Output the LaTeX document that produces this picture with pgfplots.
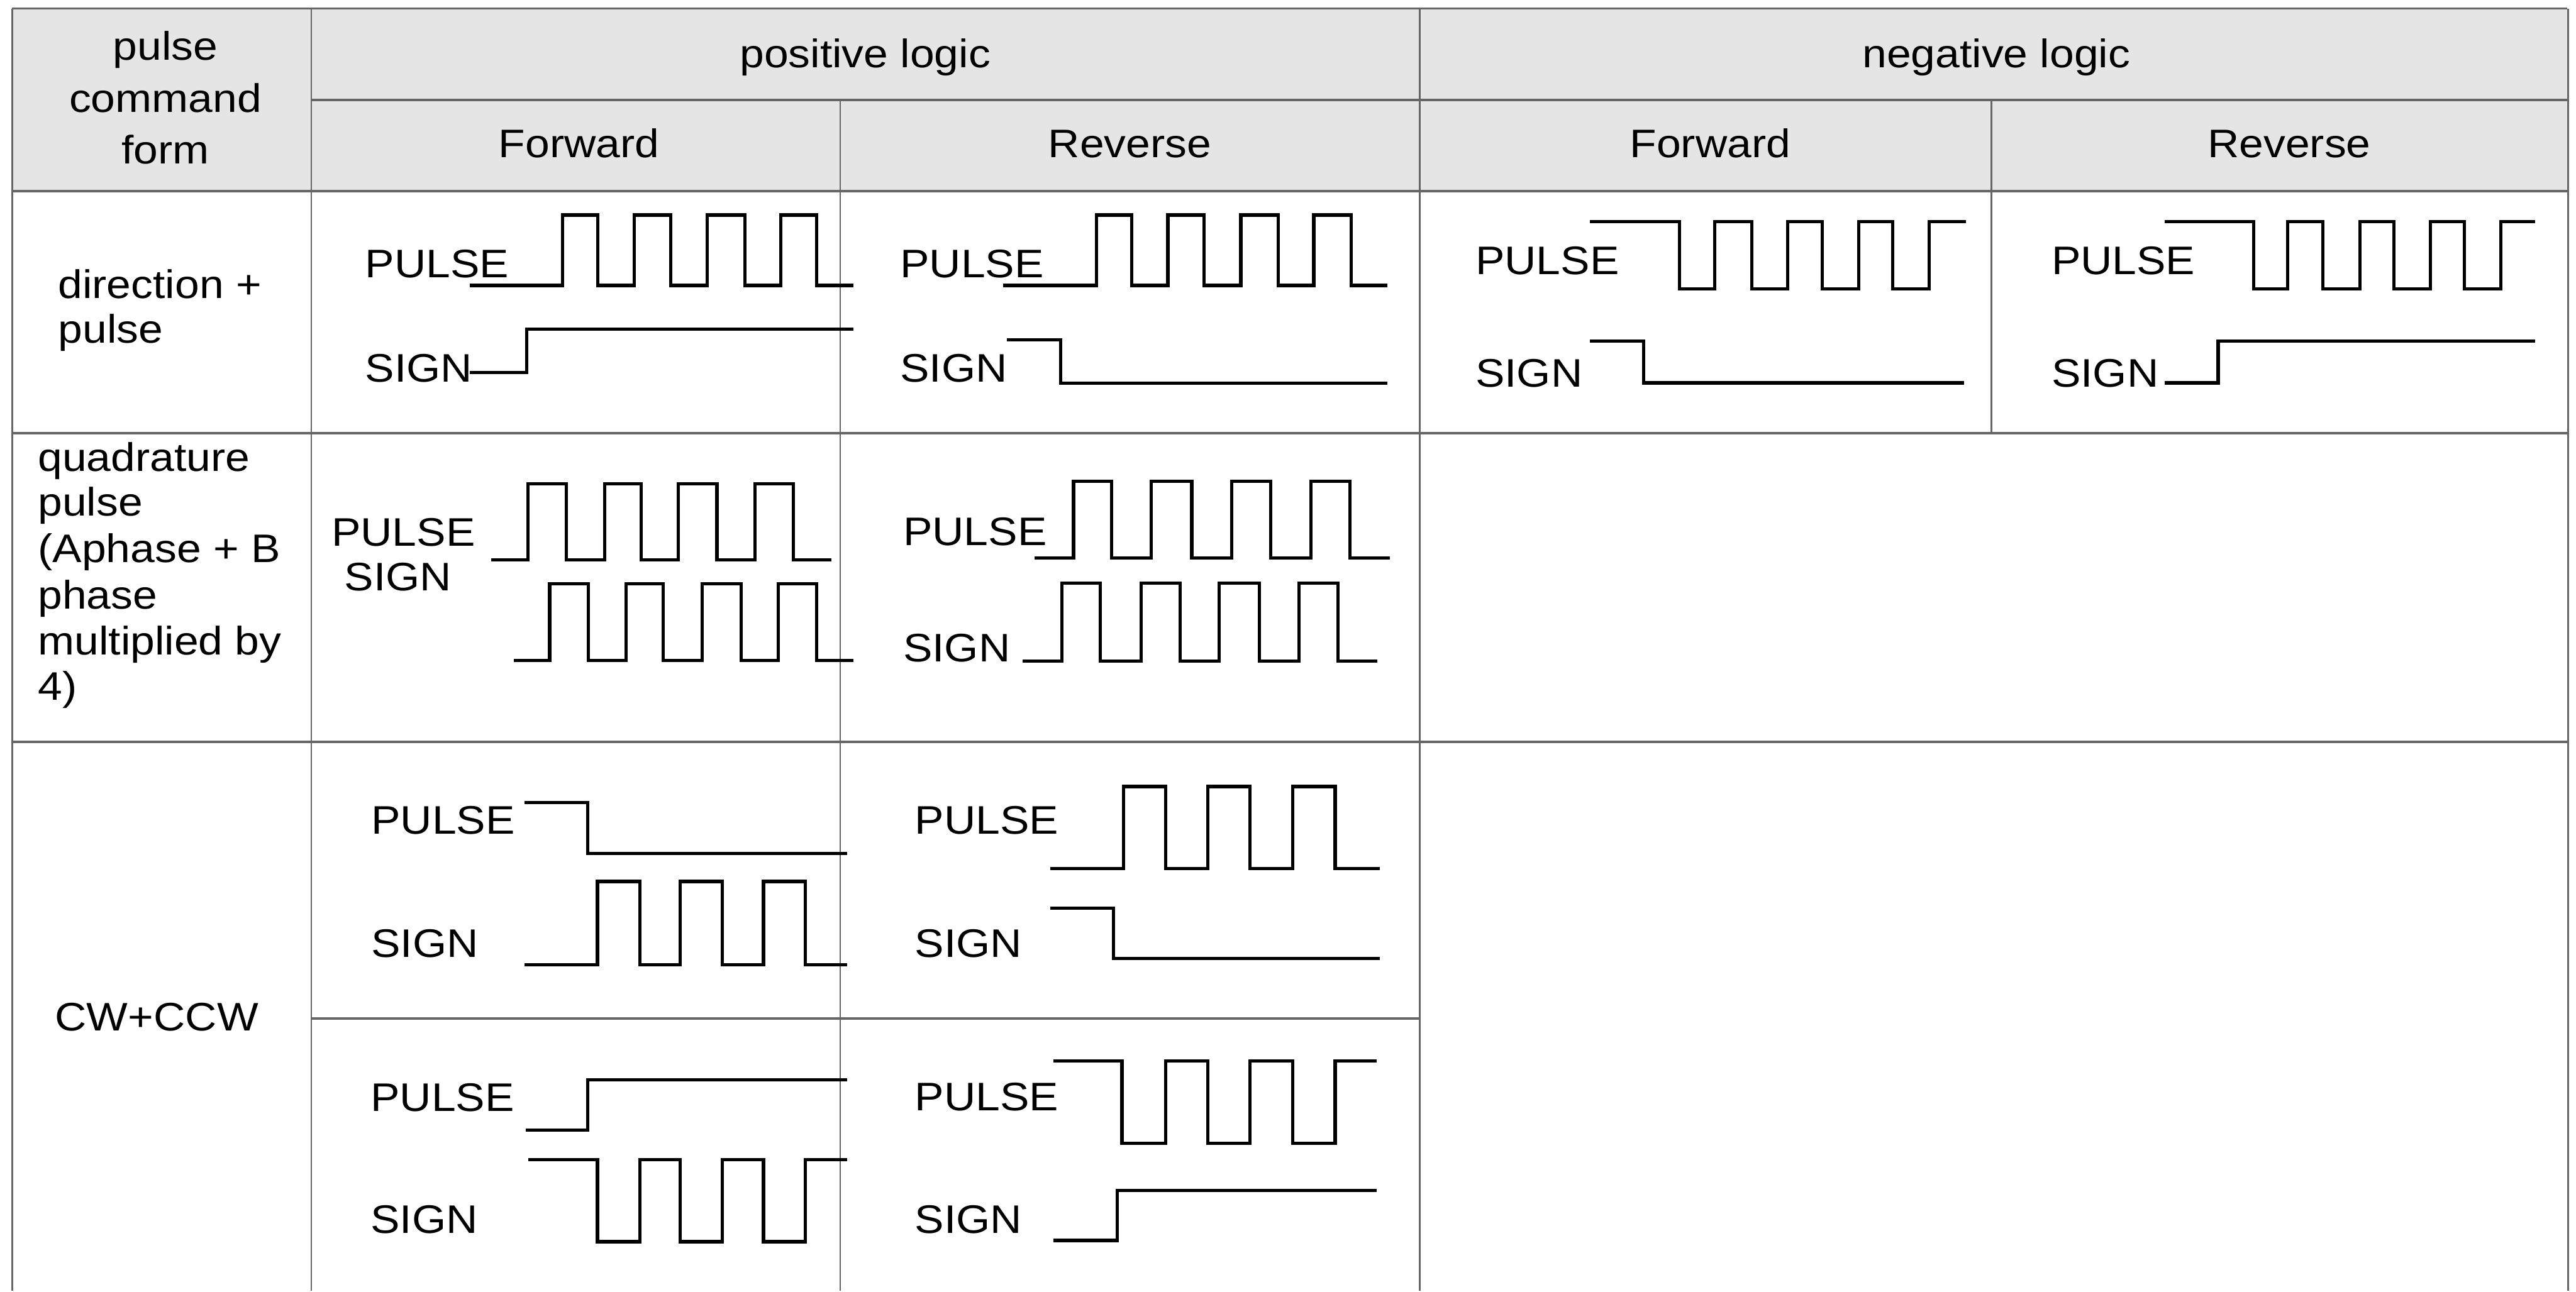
\documentclass[border=0pt]{standalone}
\usepackage{fontspec}
\setmainfont{Liberation Sans}[FakeStretch=1.1]
\usepackage{pgfplots}
\pgfplotsset{compat=1.18}
\definecolor{hdr}{HTML}{E5E5E5}
\definecolor{tl}{HTML}{666666}
\tikzset{
  wave/.style={black, line width=1.05pt, mark=none, line join=miter},
  hl/.style={tl, line width=0.75pt, mark=none},
  vl/.style={tl, line width=0.5pt, mark=none},
  lab/.style={anchor=base west, inner sep=0pt, font=\fontsize{13}{15}\selectfont},
  hd/.style={anchor=base, inner sep=0pt, font=\fontsize{13}{15}\selectfont},
}
\begin{document}
\begin{tikzpicture}
\begin{axis}[
  width=840.8pt, height=421.4pt, scale only axis,
  xmin=0, xmax=4204, ymin=0, ymax=2107, y dir=reverse,
  hide axis, clip=false,
]
% background
\addplot[fill=white, draw=none] coordinates {(0,0)(4204,0)(4204,2107)(0,2107)};
% header fill
\addplot[fill=hdr, draw=none] coordinates {(20,14)(4190,14)(4190,312)(20,312)};
% horizontal table lines
\addplot[hl] coordinates {(20,14)(4190,14)};
\addplot[hl] coordinates {(508,163)(4190,163)};
\addplot[hl] coordinates {(20,312)(4190,312)};
\addplot[hl] coordinates {(20,707)(4190,707)};
\addplot[hl] coordinates {(20,1211)(4190,1211)};
\addplot[hl] coordinates {(508,1663)(2317,1663)};
% vertical table lines
\addplot[vl] coordinates {(20,14)(20,2107)};
\addplot[vl] coordinates {(508,14)(508,2107)};
\addplot[vl] coordinates {(1371,163)(1371,2107)};
\addplot[vl] coordinates {(2317,14)(2317,2107)};
\addplot[vl] coordinates {(3250,163)(3250,707)};
\addplot[tl, line width=0.65pt] coordinates {(4191,14)(4191,2107)};

% headers
\node[hd] at (axis cs:270,98) {pulse};
\node[hd] at (axis cs:270,183) {command};
\node[hd] at (axis cs:270,267) {form};
\node[hd] at (axis cs:1412,110) {positive logic};
\node[hd] at (axis cs:3258,110) {negative logic};
\node[hd] at (axis cs:945,257) {Forward};
\node[hd] at (axis cs:1844,257) {Reverse};
\node[hd] at (axis cs:2791,257) {Forward};
\node[hd] at (axis cs:3736,257) {Reverse};

% first column
\node[lab] at (axis cs:94,487) {direction +};
\node[lab] at (axis cs:94,560) {pulse};
\node[lab] at (axis cs:61,769) {quadrature};
\node[lab] at (axis cs:61,842) {pulse};
\node[lab] at (axis cs:61,918) {(Aphase + B};
\node[lab] at (axis cs:61,994) {phase};
\node[lab] at (axis cs:61,1069) {multiplied by};
\node[lab] at (axis cs:61,1143) {4)};
\node[lab] at (axis cs:89,1683) {CW+CCW};

% ---------- Row 1: direction + pulse ----------
\node[lab] at (axis cs:595,453) {PULSE};
\node[lab] at (axis cs:595,624) {SIGN};
\addplot[wave] coordinates {(767,466)(918,466)(918,351)(976,351)(976,466)(1035,466)(1035,351)(1095,351)(1095,466)(1154,466)(1154,351)(1216,351)(1216,466)(1274,466)(1274,351)(1333,351)(1333,466)(1393,466)};
\addplot[wave] coordinates {(767,608)(860,608)(860,537)(1393,537)};

\node[lab] at (axis cs:1468,453) {PULSE};
\node[lab] at (axis cs:1468,624) {SIGN};
\addplot[wave] coordinates {(1637,466)(1789,466)(1789,351)(1847,351)(1847,466)(1906,466)(1906,351)(1965,351)(1965,466)(2025,466)(2025,351)(2086,351)(2086,466)(2144,466)(2144,351)(2205,351)(2205,466)(2264,466)};
\addplot[wave] coordinates {(1643,555)(1731,555)(1731,626)(2264,626)};

\node[lab] at (axis cs:2407,448) {PULSE};
\node[lab] at (axis cs:2407,632) {SIGN};
\addplot[wave] coordinates {(2595,362)(2741,362)(2741,472)(2798,472)(2798,362)(2859,362)(2859,472)(2917,472)(2917,362)(2974,362)(2974,472)(3033,472)(3033,362)(3089,362)(3089,472)(3148,472)(3148,362)(3208,362)};
\addplot[wave] coordinates {(2595,557)(2682,557)(2682,625)(3205,625)};

\node[lab] at (axis cs:3347,448) {PULSE};
\node[lab] at (axis cs:3347,632) {SIGN};
\addplot[wave] coordinates {(3533,362)(3678,362)(3678,472)(3733,472)(3733,362)(3791,362)(3791,472)(3851,472)(3851,362)(3907,362)(3907,472)(3966,472)(3966,362)(4022,362)(4022,472)(4081,472)(4081,362)(4137,362)};
\addplot[wave] coordinates {(3533,625)(3620,625)(3620,557)(4137,557)};

% ---------- Row 2: quadrature ----------
\node[lab] at (axis cs:540,891) {PULSE};
\node[lab] at (axis cs:561,964) {SIGN};
\addplot[wave] coordinates {(802,914)(862,914)(862,790)(924,790)(924,914)(987,914)(987,790)(1046,790)(1046,914)(1107,914)(1107,790)(1170,790)(1170,914)(1232,914)(1232,790)(1295,790)(1295,914)(1357,914)};
\addplot[wave] coordinates {(839,1078)(897,1078)(897,953)(960,953)(960,1078)(1022,1078)(1022,953)(1082,953)(1082,1078)(1146,1078)(1146,953)(1210,953)(1210,1078)(1270,1078)(1270,953)(1333,953)(1333,1078)(1393,1078)};

\node[lab] at (axis cs:1473,890) {PULSE};
\node[lab] at (axis cs:1473,1080) {SIGN};
\addplot[wave] coordinates {(1688,911)(1752,911)(1752,786)(1814,786)(1814,911)(1879,911)(1879,786)(1945,786)(1945,911)(2010,911)(2010,786)(2074,786)(2074,911)(2139,911)(2139,786)(2203,786)(2203,911)(2268,911)};
\addplot[wave] coordinates {(1669,1079)(1733,1079)(1733,952)(1796,952)(1796,1079)(1862,1079)(1862,952)(1926,952)(1926,1079)(1990,1079)(1990,952)(2055,952)(2055,1079)(2120,1079)(2120,952)(2184,952)(2184,1079)(2248,1079)};

% ---------- Row 3: CW+CCW upper ----------
\node[lab] at (axis cs:605,1361) {PULSE};
\node[lab] at (axis cs:605,1563) {SIGN};
\addplot[wave] coordinates {(856,1310)(959,1310)(959,1393)(1383,1393)};
\addplot[wave] coordinates {(856,1575)(975,1575)(975,1439)(1044,1439)(1044,1575)(1110,1575)(1110,1439)(1179,1439)(1179,1575)(1246,1575)(1246,1439)(1314,1439)(1314,1575)(1383,1575)};

\node[lab] at (axis cs:1492,1361) {PULSE};
\node[lab] at (axis cs:1492,1563) {SIGN};
\addplot[wave] coordinates {(1714,1418)(1834,1418)(1834,1284)(1902,1284)(1902,1418)(1971,1418)(1971,1284)(2040,1284)(2040,1418)(2110,1418)(2110,1284)(2179,1284)(2179,1418)(2252,1418)};
\addplot[wave] coordinates {(1714,1483)(1817,1483)(1817,1565)(2252,1565)};

% ---------- Row 3: CW+CCW lower ----------
\node[lab] at (axis cs:604,1814) {PULSE};
\node[lab] at (axis cs:604,2013) {SIGN};
\addplot[wave] coordinates {(858,1845)(959,1845)(959,1763)(1383,1763)};
\addplot[wave] coordinates {(862,1893)(975,1893)(975,2027)(1044,2027)(1044,1893)(1110,1893)(1110,2027)(1179,2027)(1179,1893)(1246,1893)(1246,2027)(1314,2027)(1314,1893)(1383,1893)};

\node[lab] at (axis cs:1492,1813) {PULSE};
\node[lab] at (axis cs:1492,2013) {SIGN};
\addplot[wave] coordinates {(1719,1732)(1831,1732)(1831,1866)(1902,1866)(1902,1732)(1971,1732)(1971,1866)(2040,1866)(2040,1732)(2110,1732)(2110,1866)(2179,1866)(2179,1732)(2247,1732)};
\addplot[wave] coordinates {(1719,2025)(1823,2025)(1823,1943)(2247,1943)};
\end{axis}
\end{tikzpicture}
\end{document}
